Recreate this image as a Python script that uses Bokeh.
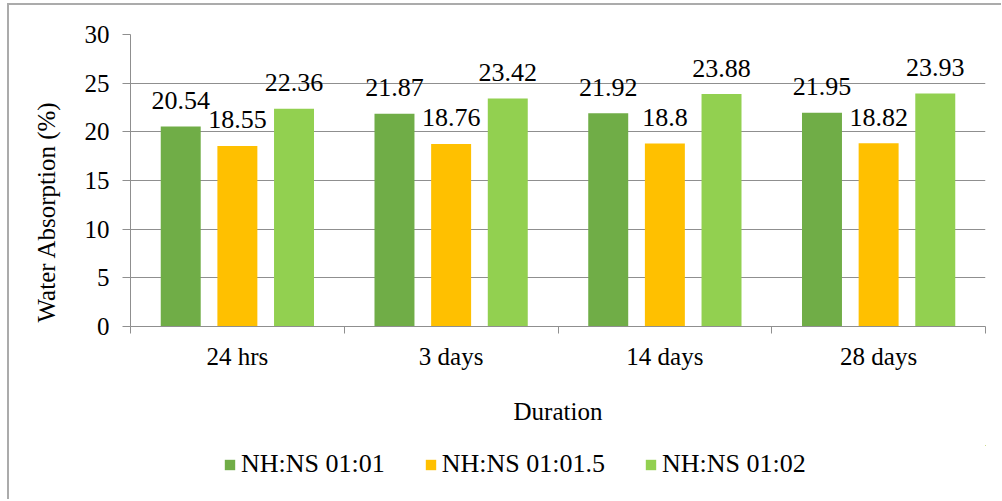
from bokeh.plotting import figure
from bokeh.layouts import column
from bokeh.models import (ColumnDataSource, FixedTicker, Legend, LegendItem, Range1d, Title)
from bokeh.core.properties import value
from bokeh.embed import file_html
from bokeh.resources import INLINE

categories = ["24 hrs", "3 days", "14 days", "28 days"]
series_names = ["NH:NS 01:01", "NH:NS 01:01.5", "NH:NS 01:02"]
s1 = [20.54, 21.87, 21.92, 21.95]
s2 = [18.55, 18.76, 18.8, 18.82]
s3 = [22.36, 23.42, 23.88, 23.93]
colors = ["#70AD47", "#FFC000", "#92D050"]
y_ticks = [0, 5, 10, 15, 20, 25, 30]

FONT = "Times New Roman"
GRAY = "#8f8f8f"

# chart figure (page offset: 9px left, 5px top due to border)
p = figure(width=992, height=440, output_backend="svg", toolbar_location=None,
           x_range=Range1d(0, len(categories)), y_range=Range1d(0, 30),
           min_border_left=120, min_border_right=16, min_border_top=29,
           min_border_bottom=119)
p.outline_line_color = None
p.background_fill_color = "white"
p.border_fill_color = "white"

offsets = [-0.265, 0.0, 0.265]
bar_w = 0.187
series = [s1, s2, s3]
for vals, off, col in zip(series, offsets, colors):
    xs = [i + 0.5 + off for i in range(len(categories))]
    src = ColumnDataSource(dict(x=xs, top=vals, lab=[str(v) for v in vals]))
    p.vbar(x="x", top="top", width=bar_w, bottom=0, source=src,
           fill_color=col, line_color=None)
    p.text(x="x", y="top", text="lab", source=src, text_align="center",
           text_baseline="alphabetic", y_offset=-26,
           text_font=value(FONT), text_font_size="26px", text_color="black")

xa = p.xaxis[0]
centers = [i + 0.5 for i in range(len(categories))]
xa.ticker = FixedTicker(ticks=centers, minor_ticks=list(range(len(categories) + 1)))
xa.major_label_overrides = {c: lab for c, lab in zip(centers, categories)}
xa.major_tick_out = 0
xa.major_tick_in = 0
xa.minor_tick_out = 7
xa.minor_tick_in = 0
xa.minor_tick_line_color = GRAY
xa.axis_line_color = GRAY
xa.major_label_text_font = FONT
xa.major_label_text_font_size = "25px"
xa.major_label_text_color = "black"
xa.major_label_standoff = 9
xa.axis_label = "Duration"
xa.axis_label_text_font = FONT
xa.axis_label_text_font_size = "25px"
xa.axis_label_text_font_style = "normal"
xa.axis_label_text_color = "black"
xa.axis_label_standoff = 25

ya = p.yaxis[0]
ya.ticker = FixedTicker(ticks=y_ticks)
ya.minor_tick_line_color = None
ya.major_tick_out = 8
ya.major_tick_in = 0
ya.major_tick_line_color = GRAY
ya.axis_line_color = GRAY
ya.major_label_text_font = FONT
ya.major_label_text_font_size = "25px"
ya.major_label_text_color = "black"
ya.major_label_standoff = 13

ytitle = Title(text="Water Absorption (%)", align="left", offset=4, standoff=43,
               text_font=FONT, text_font_size="25px", text_font_style="normal",
               text_color="black")
p.add_layout(ytitle, "left")

p.xgrid.grid_line_color = None
p.ygrid.grid_line_color = GRAY
p.ygrid.ticker = FixedTicker(ticks=y_ticks)

# legend figure (frame aligned with chart frame by the column layout)
pl = figure(width=992, height=54, output_backend="svg", toolbar_location=None,
            x_range=Range1d(-10, -9), y_range=Range1d(-10, -9),
            min_border=0, min_border_left=0, min_border_right=0,
            min_border_top=0, min_border_bottom=0)
pl.axis.visible = False
pl.grid.visible = False
pl.outline_line_color = None
pl.background_fill_color = "white"
pl.border_fill_color = "white"
leg_renderers = [pl.vbar(x=list(range(len(categories))), top=vals, width=0.5,
                         fill_color=c, line_color=None)
                 for vals, c in zip(series, colors)]
legend = Legend(items=[LegendItem(label=n, renderers=[r]) for n, r in zip(series_names, leg_renderers)],
                location=(93, 20), orientation="horizontal",
                border_line_alpha=0, background_fill_alpha=0, padding=0, margin=0,
                spacing=39, glyph_width=13, glyph_height=13, label_standoff=5,
                label_text_font=FONT, label_text_font_size="26px",
                label_text_color="black")
pl.add_layout(legend, "center")

layout = column(p, pl, spacing=0)
layout.styles = {"margin-left": "7px", "margin-top": "3px",
                 "border-left": "2px solid #ababab", "border-top": "2px solid #ababab"}

open("out.html", "w").write(file_html(layout, INLINE))
